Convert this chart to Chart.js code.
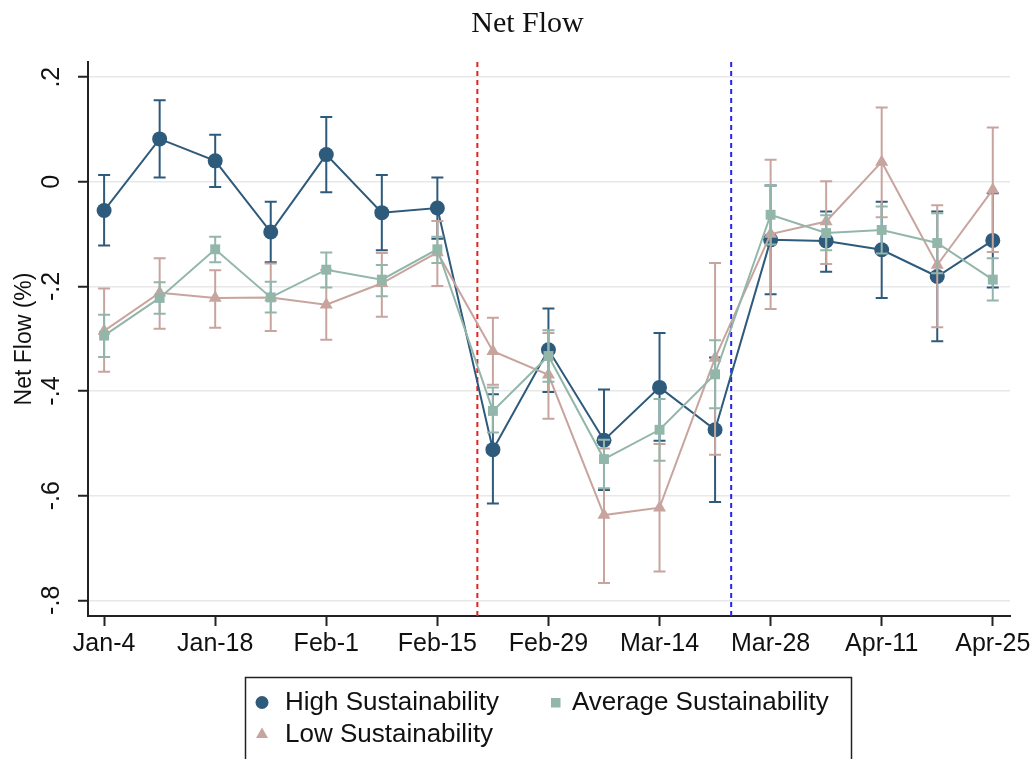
<!DOCTYPE html>
<html><head><meta charset="utf-8">
<script src="https://cdn.jsdelivr.net/npm/chart.js@4.4.1/dist/chart.umd.min.js"></script>
<style>html,body{margin:0;padding:0;background:#fff;} canvas{display:block;}</style>
</head><body>
<canvas id="c" width="1036" height="759"></canvas>
<script>
// ---- data ----
const weeks = ['Jan-4','Jan-11','Jan-18','Jan-25','Feb-1','Feb-8','Feb-15','Feb-22','Feb-29','Mar-7','Mar-14','Mar-21','Mar-28','Apr-4','Apr-11','Apr-18','Apr-25'];
const xTickValues = [0,2,4,6,8,10,12,14,16];
const yTickValues = [0.2,0,-0.2,-0.4,-0.6,-0.8];
const yTickLabels = ['.2','0','-.2','-.4','-.6','-.8'];

const high   = [-0.055, 0.082, 0.040,-0.096, 0.052,-0.059,-0.050,-0.512,-0.321,-0.494,-0.393,-0.474,-0.111,-0.113,-0.130,-0.181,-0.112];
const highLo = [-0.122, 0.008,-0.010,-0.154,-0.020,-0.131,-0.109,-0.615,-0.402,-0.589,-0.495,-0.612,-0.215,-0.172,-0.222,-0.305,-0.202];
const highHi = [ 0.013, 0.156, 0.090,-0.038, 0.124, 0.013, 0.008,-0.406,-0.242,-0.397,-0.289,-0.336,-0.007,-0.057,-0.038,-0.057,-0.022];

const avg    = [-0.294,-0.222,-0.129,-0.221,-0.168,-0.187,-0.129,-0.438,-0.333,-0.530,-0.474,-0.368,-0.063,-0.098,-0.092,-0.117,-0.187];
const avgLo  = [-0.335,-0.252,-0.154,-0.250,-0.202,-0.219,-0.155,-0.479,-0.382,-0.586,-0.533,-0.433,-0.120,-0.131,-0.137,-0.175,-0.227];
const avgHi  = [-0.254,-0.192,-0.105,-0.191,-0.135,-0.159,-0.105,-0.393,-0.284,-0.493,-0.415,-0.303,-0.007,-0.064,-0.047,-0.060,-0.146];

const low    = [-0.285,-0.212,-0.222,-0.221,-0.235,-0.194,-0.135,-0.324,-0.369,-0.637,-0.623,-0.337,-0.100,-0.076, 0.038,-0.159,-0.015];
const lowLo  = [-0.363,-0.281,-0.279,-0.285,-0.302,-0.258,-0.199,-0.388,-0.453,-0.767,-0.745,-0.522,-0.243,-0.157,-0.068,-0.278,-0.134];
const lowHi  = [-0.204,-0.146,-0.169,-0.156,-0.168,-0.136,-0.075,-0.260,-0.289,-0.510,-0.501,-0.155, 0.042, 0.001, 0.142,-0.045, 0.104];

const redEventWeek = 6.72;   // ~Feb-20
const blueEventWeek = 11.29; // ~Mar-23

const seriesNames = ['High Sustainability','Average Sustainability','Low Sustainability'];
const chartTitle = 'Net Flow';
const yTitle = 'Net Flow (%)';

// ---- styles ----
const C_HIGH = '#2e5a7b', C_AVG = '#93b6aa', C_LOW = '#c8a49e';
const pts = arr => arr.map((v,i)=>({x:i, y:v}));

const errorBars = {
  id:'errorBars',
  beforeDatasetDraw(chart, args){
    const ds = chart.data.datasets[args.index];
    if(!ds.errLo) return;
    const xs = chart.scales.x, ys = chart.scales.y, ctx = chart.ctx;
    ctx.save();
    ctx.strokeStyle = ds.borderColor; ctx.lineWidth = 2;
    ds.data.forEach((p,i)=>{
      const px = xs.getPixelForValue(p.x);
      const y1 = ys.getPixelForValue(ds.errLo[i]), y2 = ys.getPixelForValue(ds.errHi[i]);
      ctx.beginPath();
      ctx.moveTo(px,y1); ctx.lineTo(px,y2);
      ctx.moveTo(px-6,y1); ctx.lineTo(px+6,y1);
      ctx.moveTo(px-6,y2); ctx.lineTo(px+6,y2);
      ctx.stroke();
    });
    ctx.restore();
  }
};

const eventLines = {
  id:'eventLines',
  beforeDatasetsDraw(chart){
    const {ctx, chartArea:a, scales:{x}} = chart;
    [[redEventWeek,'#e3231f'],[blueEventWeek,'#2424f0']].forEach(([w,c])=>{
      const px = x.getPixelForValue(w);
      ctx.save(); ctx.strokeStyle=c; ctx.lineWidth=2; ctx.setLineDash([5,4]);
      ctx.beginPath(); ctx.moveTo(px,a.top); ctx.lineTo(px,a.bottom); ctx.stroke(); ctx.restore();
    });
  }
};

const decor = {
  id:'decor',
  afterDraw(chart){
    const ctx = chart.ctx;
    ctx.save();
    // title
    ctx.fillStyle='#111'; ctx.font='30px "Liberation Serif"'; ctx.textAlign='center'; ctx.textBaseline='alphabetic';
    ctx.fillText(chartTitle, 527.5, 31.5);
    // legend box
    ctx.strokeStyle='#222'; ctx.lineWidth=1.5;
    ctx.strokeRect(245.5, 677.5, 606, 100);
    ctx.font='26px "Liberation Sans"'; ctx.textAlign='left'; ctx.fillStyle='#111';
    ctx.fillText(seriesNames[0], 285, 709.5);
    ctx.fillText(seriesNames[1], 572, 709.5);
    ctx.fillText(seriesNames[2], 285, 742);
    // markers
    ctx.fillStyle=C_HIGH; ctx.beginPath(); ctx.arc(262,702.5,6.5,0,Math.PI*2); ctx.fill();
    ctx.fillStyle=C_AVG; ctx.fillRect(551,698,9.5,9.5);
    ctx.fillStyle=C_LOW; ctx.beginPath(); ctx.moveTo(262,727.5); ctx.lineTo(268,738); ctx.lineTo(256,738); ctx.closePath(); ctx.fill();
    ctx.restore();
  }
};

new Chart(document.getElementById('c'), {
  type:'line',
  data:{ datasets:[
    {label:seriesNames[0], data:pts(high), errLo:highLo, errHi:highHi, borderColor:C_HIGH, backgroundColor:C_HIGH,
     borderWidth:2, pointStyle:'circle', pointRadius:7.5, pointBorderWidth:0, order:3},
    {label:seriesNames[2], data:pts(low), errLo:lowLo, errHi:lowHi, borderColor:C_LOW, backgroundColor:C_LOW,
     borderWidth:2, pointStyle:'triangle', pointRadius:7.5, pointBorderWidth:0, order:2},
    {label:seriesNames[1], data:pts(avg), errLo:avgLo, errHi:avgHi, borderColor:C_AVG, backgroundColor:C_AVG,
     borderWidth:2, pointStyle:'rect', pointRadius:7, pointBorderWidth:0, order:1},
  ]},
  options:{
    responsive:false, animation:false, devicePixelRatio:1,
    layout:{padding:{top:62, right:26, left:0, bottom:0}},
    plugins:{legend:{display:false}, title:{display:false}, tooltip:{enabled:false}},
    elements:{line:{tension:0}},
    scales:{
      x:{ type:'linear', min:-0.29, max:16.31,
        afterBuildTicks(s){ s.ticks = xTickValues.map(v=>({value:v})); },
        afterFit(s){ s.height = 143; },
        grid:{drawOnChartArea:false, drawTicks:true, tickLength:10, tickColor:'#222', tickWidth:2},
        border:{display:true, color:'#222', width:2},
        ticks:{ autoSkip:false, maxRotation:0, minRotation:0, padding:3, color:'#111',
          font:{family:'"Liberation Sans"', size:25},
          callback:(v)=> weeks[Math.round(v)] }
      },
      y:{ type:'linear', min:-0.83, max:0.229,
        afterBuildTicks(s){ s.ticks = yTickValues.map(v=>({value:v})); },
        afterFit(s){ s.width = 88; },
        grid:{color:'#e8e8e8', lineWidth:1.5, drawTicks:true, tickLength:10, tickColor:'#222', tickWidth:2},
        border:{display:true, color:'#222', width:2},
        ticks:{ minRotation:90, maxRotation:90, crossAlign:'center', padding:11, color:'#111',
          font:{family:'"Liberation Sans"', size:25},
          callback:(v)=>{ const i = yTickValues.findIndex(t=>Math.abs(t-v)<1e-6); return i>=0 ? yTickLabels[i] : ''; } },
        title:{display:true, text:yTitle, color:'#111', font:{family:'"Liberation Sans"', size:23}, padding:{top:11,bottom:0}}
      }
    }
  },
  plugins:[errorBars, eventLines, decor]
});
</script>
</body></html>
